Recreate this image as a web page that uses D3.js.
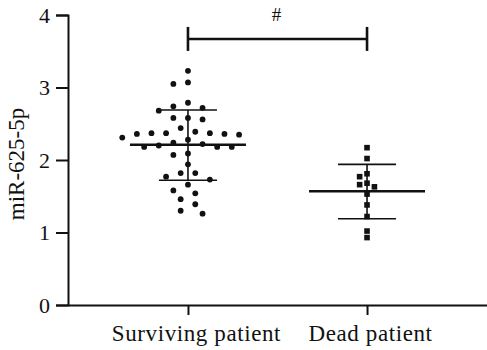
<!DOCTYPE html>
<html>
<head>
<meta charset="utf-8">
<script src="https://cdn.jsdelivr.net/npm/d3@7"></script>
<style>
  html, body { margin: 0; padding: 0; background: #fff; }
  svg { display: block; }
  text { font-family: "Liberation Serif", "DejaVu Serif", serif; fill: #111; }
</style>
</head>
<body>
<svg id="chart" width="487" height="350"></svg>
<script>
// Group names
const groups = ["Surviving patient", "Dead patient"];

// miR-625-5p expression per patient
const survivingValues = [
  3.23, 3.05, 3.07, 2.79, 2.68, 2.72, 2.74, 2.58, 2.58, 2.56,
  2.44, 2.36, 2.37, 2.36, 2.37, 2.35, 2.31, 2.28, 2.37, 2.39,
  2.20, 2.18, 2.18, 2.18, 2.24, 2.22, 2.09, 2.07, 1.94, 1.82,
  1.77, 1.82, 1.73, 1.66, 1.58, 1.54, 1.46, 1.39, 1.30, 1.26
];
const deadValues = [
  2.17, 2.02, 1.81, 1.77, 1.68, 1.66, 1.63, 1.53, 1.38, 1.22, 1.02, 0.93
];

// Mean and standard deviation bounds for each group
const groupMeans = [2.21, 1.57];
const sdUpper = [2.69, 1.94];
const sdLower = [1.72, 1.19];

const yTicks = [0, 1, 2, 3, 4];
const yLabel = "miR-625-5p";
const sigLabel = "#";

const svg = d3.select("#chart");
const plotLeft = 68, plotRight = 487, plotTop = 15, plotBottom = 305;

const x = d3.scalePoint().domain(groups).range([plotLeft, plotRight]).padding(0.67);
const y = d3.scaleLinear().domain([0, 4]).range([plotBottom, plotTop]);

// Y axis
const yAxis = svg.append("g")
  .attr("transform", `translate(${plotLeft},0)`)
  .call(d3.axisLeft(y).tickValues(yTicks).tickSize(12).tickPadding(6).tickFormat(d3.format("d")));
yAxis.select(".domain").attr("stroke", "#111").attr("stroke-width", 2);
yAxis.selectAll(".tick line").attr("stroke", "#111").attr("stroke-width", 2);
yAxis.selectAll(".tick text").style("font-size", "22px").attr("fill", "#111");

// X axis
const xAxis = svg.append("g")
  .attr("transform", `translate(0,${plotBottom})`)
  .call(d3.axisBottom(x).tickSize(10).tickPadding(10).tickSizeOuter(0));
xAxis.select(".domain").attr("stroke", "#111").attr("stroke-width", 2.2);
xAxis.selectAll(".tick line").attr("stroke", "#111").attr("stroke-width", 2);
xAxis.selectAll(".tick text")
  .style("font-size", "23px").style("letter-spacing", "0.6px").attr("fill", "#111")
  .attr("dx", (d, i) => i === 0 ? 8 : 3);

// Y axis title
svg.append("text")
  .attr("transform", `translate(24,${(plotTop + plotBottom) / 2 + 4}) rotate(-90)`)
  .attr("text-anchor", "middle")
  .style("font-size", "23px")
  .text(yLabel);

// Greedy swarm layout: place each point as close to the group centre as possible
function swarm(values, cx, minDist, step) {
  const placed = [];
  const order = values.map((v, i) => i).sort((a, b) => values[b] - values[a]);
  const out = new Array(values.length);
  for (const i of order) {
    const py = y(values[i]);
    let k = 0, px = cx;
    for (;;) {
      const cands = k === 0 ? [0] : [-k, k];
      let found = false;
      for (const c of cands) {
        const tx = cx + c * step;
        if (placed.every(p => Math.hypot(p[0] - tx, p[1] - py) >= minDist)) {
          px = tx; found = true; break;
        }
      }
      if (found) break;
      k++;
    }
    placed.push([px, py]);
    out[i] = [px, py];
  }
  return out;
}

const survPts = swarm(survivingValues, x(groups[0]), 10.8, 7.3);
const deadPts = swarm(deadValues, x(groups[1]), 5.5, 3.7);

// Error bars (mean line, SD whiskers, vertical connector)
const meanHalf = [58, 58];
const sdHalf = [29, 29];
groups.forEach((g, i) => {
  const cx = x(g);
  const eg = svg.append("g").attr("stroke", "#111");
  eg.append("line").attr("x1", cx).attr("x2", cx)
    .attr("y1", y(sdUpper[i])).attr("y2", y(sdLower[i])).attr("stroke-width", 1.6);
  eg.append("line").attr("x1", cx - sdHalf[i]).attr("x2", cx + sdHalf[i])
    .attr("y1", y(sdUpper[i])).attr("y2", y(sdUpper[i])).attr("stroke-width", 1.6);
  eg.append("line").attr("x1", cx - sdHalf[i]).attr("x2", cx + sdHalf[i])
    .attr("y1", y(sdLower[i])).attr("y2", y(sdLower[i])).attr("stroke-width", 1.6);
  eg.append("line").attr("x1", cx - meanHalf[i]).attr("x2", cx + meanHalf[i])
    .attr("y1", y(groupMeans[i])).attr("y2", y(groupMeans[i])).attr("stroke-width", 2.6);
});

// Points
svg.append("g").selectAll("circle").data(survPts).join("circle")
  .attr("cx", d => d[0]).attr("cy", d => d[1]).attr("r", 2.9).attr("fill", "#111");
svg.append("g").selectAll("rect").data(deadPts).join("rect")
  .attr("x", d => d[0] - 2.8).attr("y", d => d[1] - 2.8)
  .attr("width", 5.6).attr("height", 5.6).attr("fill", "#111");

// Significance bracket
const bracketY = y(3.67);
const br = svg.append("g").attr("stroke", "#111").attr("stroke-width", 2.6);
br.append("line").attr("x1", x(groups[0])).attr("x2", x(groups[1]))
  .attr("y1", bracketY).attr("y2", bracketY);
[groups[0], groups[1]].forEach(g => {
  br.append("line").attr("x1", x(g)).attr("x2", x(g))
    .attr("y1", bracketY - 12).attr("y2", bracketY + 12);
});
svg.append("text")
  .attr("x", (x(groups[0]) + x(groups[1])) / 2 - 1)
  .attr("y", bracketY - 18)
  .attr("text-anchor", "middle")
  .style("font-size", "19px")
  .text(sigLabel);
</script>
</body>
</html>
